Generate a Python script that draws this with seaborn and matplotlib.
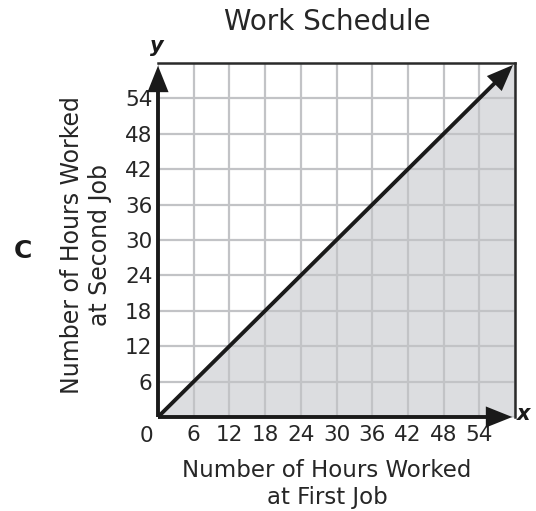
import matplotlib
matplotlib.use("Agg")
import matplotlib.pyplot as plt
import seaborn as sns
import pandas as pd

# Boundary line y = x (hours at second job vs. hours at first job)
first_job_hours = [0, 60]
second_job_hours = [0, 60]
tick_values = [0, 6, 12, 18, 24, 30, 36, 42, 48, 54, 60]
tick_labels = ["", "6", "12", "18", "24", "30", "36", "42", "48", "54", ""]
axis_max = 60

title_text = "Work Schedule"
x_label = "Number of Hours Worked\nat First Job"
y_label = "Number of Hours Worked\nat Second Job"
choice_letter = "C"

sns.set_theme(style="whitegrid")
plt.rcParams["font.family"] = ["DejaVu Sans"]

df = pd.DataFrame({"first": first_job_hours, "second": second_job_hours})

fig = plt.figure(figsize=(5.36, 5.11), dpi=100)
ax = fig.add_axes([158 / 536, 1 - 417 / 511, 357 / 536, 354 / 511])
ax.set_xlim(0, axis_max)
ax.set_ylim(0, axis_max)

# Shaded half-plane below the line
ax.fill_between(df["first"], 0, df["second"], color="#dcdde0", zorder=0.2)

# Grid every 6 hours
ax.set_xticks(tick_values)
ax.set_xticklabels(tick_labels)
ax.set_yticks(tick_values)
ax.set_yticklabels(tick_labels)
ax.grid(True, color="#c2c3c6", linewidth=1.6)
ax.set_axisbelow(True)
for gl in ax.get_xgridlines() + ax.get_ygridlines():
    gl.set_zorder(1)
ax.tick_params(axis="both", length=0, labelsize=15.5, labelcolor="#262626")
ax.tick_params(axis="x", pad=6)
ax.tick_params(axis="y", pad=4)

# Frame: thin top/right, thick arrowed left/bottom
for side in ["top", "right"]:
    ax.spines[side].set_visible(True)
    ax.spines[side].set_color("#2a2a2a")
    ax.spines[side].set_linewidth(1.8)
    ax.spines[side].set_zorder(3)
for side in ["left", "bottom"]:
    ax.spines[side].set_visible(False)

ax.plot([0, 0], [0, axis_max - 2], color="#1a1a1a", linewidth=2.8,
        clip_on=False, zorder=5, solid_capstyle="butt")
ax.plot([0, axis_max - 2], [0, 0], color="#1a1a1a", linewidth=2.8,
        clip_on=False, zorder=5, solid_capstyle="butt")
arrow_kw = dict(arrowstyle="-|>,head_length=0.95,head_width=0.38",
                color="#1a1a1a", lw=0, mutation_scale=20)
ax.annotate("", xy=(0, axis_max), xytext=(0, axis_max - 4),
            arrowprops=arrow_kw, annotation_clip=False, zorder=6)
ax.annotate("", xy=(axis_max, 0), xytext=(axis_max - 4, 0),
            arrowprops=arrow_kw, annotation_clip=False, zorder=6)

# Boundary line with arrowhead
sns.lineplot(data=df, x="first", y="second", ax=ax, color="#1a1a1a",
             linewidth=2.8, zorder=4)
ax.lines[-1].set_data([0, axis_max - 2], [0, axis_max - 2])
ax.annotate("", xy=(axis_max, axis_max), xytext=(axis_max - 4, axis_max - 4),
            arrowprops=arrow_kw, annotation_clip=False, zorder=6)

ax.set_xlabel("")
ax.set_ylabel("")

fig.text(146 / 536, 1 - 436 / 511, "0", ha="center", va="center",
         fontsize=15.5, color="#262626")
fig.text(157 / 536, 1 - 46 / 511, "y", ha="center", va="center",
         fontsize=15, fontweight="bold", fontstyle="italic", color="#1a1a1a")
fig.text(524 / 536, 1 - 414 / 511, "x", ha="center", va="center",
         fontsize=15, fontweight="bold", fontstyle="italic", color="#1a1a1a")

fig.text(327 / 536, 1 - 22 / 511, title_text, ha="center", va="center",
         fontsize=20, color="#262626")
fig.text(327 / 536, 1 - 484 / 511, x_label, ha="center", va="center",
         fontsize=16.5, color="#262626", linespacing=1.2)
fig.text(86 / 536, 1 - 245 / 511, y_label, ha="center", va="center",
         rotation=90, fontsize=17, color="#262626", linespacing=1.2)
fig.text(23 / 536, 1 - 251 / 511, choice_letter, ha="center", va="center",
         fontsize=18, fontweight="bold", color="#1a1a1a")

fig.savefig("out.png", dpi=100)
